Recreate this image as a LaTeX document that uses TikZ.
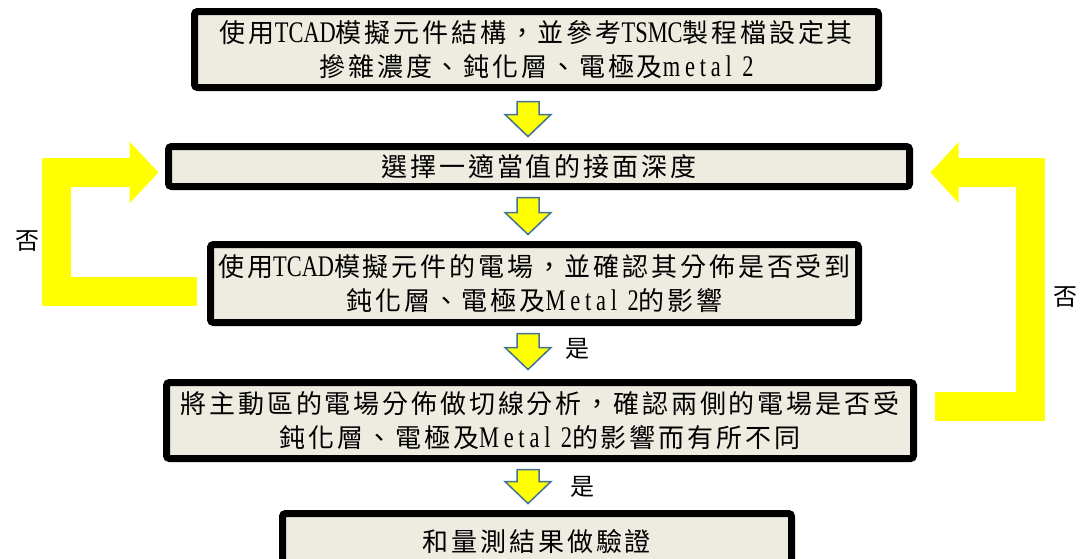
\documentclass[tikz,border=0pt]{standalone}
\usepackage{fontspec}
\setmainfont{Noto Sans CJK TC}[LetterSpace=11]
\newfontfamily\latAfont{Liberation Serif}[Scale=1.15,FakeStretch=0.75]
\newfontfamily\latBfont{Liberation Serif}[Scale=1.15,FakeStretch=0.75,LetterSpace=16]
\usetikzlibrary{arrows.meta,calc}
\definecolor{boxfill}{HTML}{EEECE1}
\definecolor{arrowedge}{HTML}{41719C}
\definecolor{flowyellow}{HTML}{FFFF00}
\newcommand\LatA[1]{{\latAfont #1}}
\newcommand\LatB[1]{{\latBfont #1}}
\begin{document}
\begin{tikzpicture}[x=1pt,y=-1pt,
  stepbox/.style={draw=black,line width=7pt,fill=boxfill,rounded corners=3pt,
    inner sep=0pt,align=center,font=\fontsize{26}{34}\selectfont},
  blockdown/.style={fill=flowyellow,draw=arrowedge,line width=1.5pt,line join=miter,
    to path={-- ($(\tikztostart)+(-11,0)$) -- ($(\tikztotarget)+(-11,-22)$)
      -- ($(\tikztotarget)+(-23,-22)$) -- (\tikztotarget)
      -- ($(\tikztotarget)+(23,-22)$) -- ($(\tikztotarget)+(11,-22)$)
      -- ($(\tikztostart)+(11,0)$) -- cycle}},
  loopline/.style={draw=flowyellow,line width=29pt,line join=miter},
  lab/.style={font=\fontsize{24}{24}\selectfont,inner sep=0pt}
]
\useasboundingbox (0,0) rectangle (1080,558);
\fill[white] (0,0) rectangle (1080,558);

\node[stepbox,minimum width=684pt,minimum height=76pt] (b1) at (536.5,49.5)
  {使用\LatA{TCAD}模擬元件結構，並參考\LatA{TSMC}製程檔設定其\\摻雜濃度、鈍化層、電極及\LatB{metal 2}};
\node[stepbox,minimum width=741pt,minimum height=40pt] (b2) at (539,166.5)
  {選擇一適當值的接面深度};
\node[stepbox,minimum width=648pt,minimum height=78pt] (b3) at (534.5,283.5)
  {使用\LatA{TCAD}模擬元件的電場，並確認其分佈是否受到\\鈍化層、電極及\LatB{Metal 2}的影響};
\node[stepbox,minimum width=747pt,minimum height=76pt] (b4) at (540,420.5)
  {將主動區的電場分佈做切線分析，確認兩側的電場是否受\\鈍化層、電極及\LatB{Metal 2}的影響而有所不同};
\node[stepbox,minimum width=509pt,minimum height=57pt] (b5) at (537,542)
  {和量測結果做驗證};

\coordinate (ax) at (528,0);
\coordinate (a1s) at ($(b1.south -| ax)+(0,10.5)$);
\coordinate (a1e) at ($(b2.north -| ax)+(0,-6.5)$);
\coordinate (a2s) at ($(b2.south -| ax)+(0,7.5)$);
\coordinate (a2e) at ($(b3.north -| ax)+(0,-6.5)$);
\coordinate (a3s) at ($(b3.south -| ax)+(0,7.5)$);
\coordinate (a3e) at ($(b4.north -| ax)+(0,-9.5)$);
\coordinate (a4s) at ($(b4.south -| ax)+(0,7.5)$);
\coordinate (a4e) at ($(b5.north -| ax)+(0,-6.5)$);

\draw[blockdown] (a1s) to (a1e);
\draw[blockdown] (a2s) to (a2e);
\draw[blockdown] (a3s) to (a3e);
\draw[blockdown] (a4s) to (a4e);

\coordinate (ls) at ($(b3.west)+(-10.5,8)$);
\coordinate (le) at ($(b2.west)+(-6.5,6)$);
\draw[loopline,-{Triangle[width=60pt,length=29pt]}] (ls) -- ++(-140,0) |- (le);
\coordinate (rs) at ($(b4.east)+(17.5,-14)$);
\coordinate (re) at ($(b2.east)+(17.5,6)$);
\draw[loopline,-{Triangle[width=59pt,length=28pt]}] (rs) -- ++(96,0) |- (re);

\node[lab] (no1) at (28,241) {否};
\node[lab] (no2) at (1065,297) {否};
\node[lab] (yes1) at (577,349) {是};
\node[lab] (yes2) at (582,487) {是};
\end{tikzpicture}
\end{document}
